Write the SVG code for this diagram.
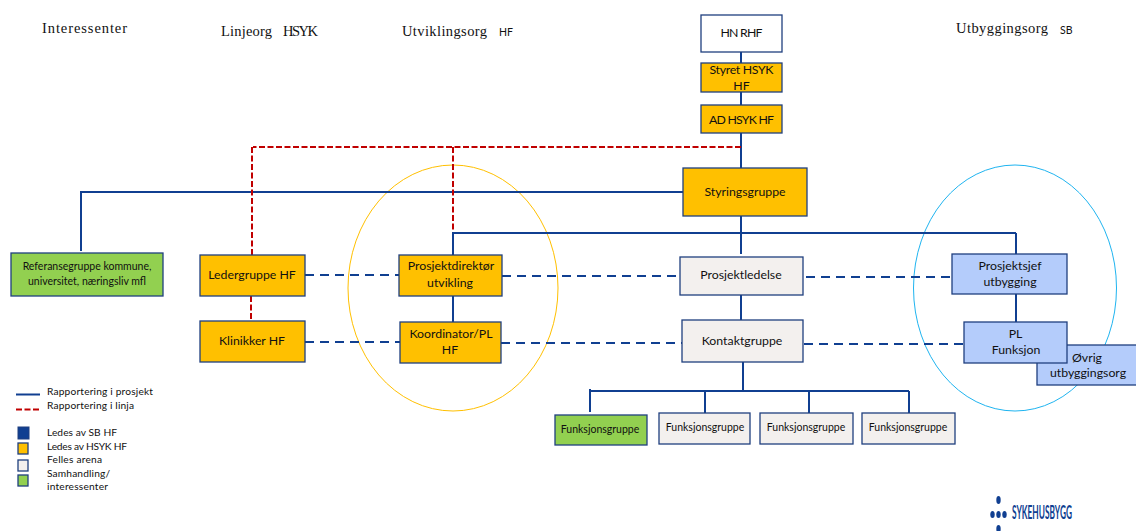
<svg xmlns="http://www.w3.org/2000/svg" width="1136" height="531" viewBox="0 0 1136 531">
<style>
text{font-family:Lato,"Open Sans",sans-serif;font-size:12.3px;fill:#111;text-anchor:middle}
.t{font-family:"Liberation Serif","DejaVu Serif",serif;font-size:14.5px;text-anchor:start}
.h{font-size:10.5px;text-anchor:start}
.s{font-size:10.5px}
.f{font-size:10.5px}
.l{font-size:10.2px;text-anchor:start}
.n{stroke:#1f3f7f;stroke-width:1.3}
.o{fill:#ffc000}.w{fill:#fff}.g{fill:#92d050}.e{fill:#f3f0ee}.b{fill:#b4ccfb}
.bl{fill:none;stroke:#103f91;stroke-width:2}
.da{fill:none;stroke:#103f91;stroke-width:2;stroke-dasharray:9 6}
.rd{fill:none;stroke:#c00000;stroke-width:2;stroke-dasharray:6 2.5}
</style>
<g id="titles">
<text class="t" x="42" y="33" textLength="85">Interessenter</text>
<text class="t" x="221" y="36" textLength="51">Linjeorg</text>
<text class="t" x="283" y="36" textLength="35">HSYK</text>
<text class="t" x="402" y="36" textLength="85">Utviklingsorg</text>
<text class="h" x="499" y="36">HF</text>
<text class="t" x="956" y="33" textLength="92">Utbyggingsorg</text>
<text class="h" x="1060" y="34">SB</text>
</g>
<ellipse id="ellipse-utvikling" cx="453" cy="288" rx="105" ry="123" fill="none" stroke="#ffc000" stroke-width="1"/>
<ellipse id="ellipse-utbygging" cx="1015" cy="288" rx="101.500" ry="123" fill="none" stroke="#1fb4f0" stroke-width="1"/>
<g id="connectors">
<path class="bl" d="M741 52V168M741 216V254M81 251V192H683M453 255V233M453 296V322M741 295V320M1016 233V254M1016 294V322M743 362V391M590 389V412M705 391V413M809 391V413M909 391V413M590 391H909M452 233H1016"/>
<path class="rd" d="M741 147H253M252 147V255M251 296V321M453 147V232"/>
<path class="da" d="M305 275H399M502 276H679M806 277H952M305 342H400M501 343H682M804 344H963"/>
</g>
<g id="hn-rhf"><rect class="n w" x="701" y="15" width="81" height="37"/><text x="741.500" y="37" textLength="42">HN RHF</text></g>
<g id="styret"><rect class="n o" x="701" y="63" width="81" height="29"/><text x="741.500" y="74" textLength="64">Styret HSYK</text><text x="741.500" y="90">HF</text></g>
<g id="ad"><rect class="n o" x="701" y="105" width="81" height="28"/><text x="741.500" y="124" textLength="65">AD HSYK HF</text></g>
<g id="styringsgruppe"><rect class="n o" x="683" y="168" width="124" height="48"/><text x="745" y="196">Styringsgruppe</text></g>
<g id="referansegruppe"><rect class="n g" x="11" y="253" width="152" height="43"/><text class="s" x="87" y="270">Referansegruppe kommune,</text><text class="s" x="87" y="285">universitet, næringsliv mfl</text></g>
<g id="ledergruppe"><rect class="n o" x="200" y="255" width="105" height="41"/><text x="252" y="279">Ledergruppe HF</text></g>
<g id="klinikker"><rect class="n o" x="200" y="321" width="105" height="41"/><text x="252" y="345">Klinikker HF</text></g>
<g id="prosjektdirektor"><rect class="n o" x="399" y="255" width="103" height="41"/><text x="451" y="270">Prosjektdirektør</text><text x="450" y="287">utvikling</text></g>
<g id="koordinator"><rect class="n o" x="400" y="322" width="101" height="41"/><text x="451" y="338">Koordinator/PL</text><text x="450" y="354">HF</text></g>
<g id="prosjektledelse"><rect class="n e" x="680" y="257" width="123" height="38"/><text x="741" y="279">Prosjektledelse</text></g>
<g id="kontaktgruppe"><rect class="n e" x="682" y="320" width="121" height="42"/><text x="742" y="345">Kontaktgruppe</text></g>
<g id="prosjektsjef"><rect class="n b" x="952" y="254" width="115" height="40"/><text x="1010" y="270">Prosjektsjef</text><text x="1010" y="286">utbygging</text></g>
<g id="ovrig"><rect class="n b" x="1037" y="345" width="100" height="40"/><text x="1087" y="362">Øvrig</text><text x="1088" y="377">utbyggingsorg</text></g>
<g id="pl"><rect class="n b" x="964" y="322" width="103" height="41"/><text x="1015.500" y="338">PL</text><text x="1016" y="354">Funksjon</text></g>
<g id="fg1"><rect class="n g" x="555" y="415" width="92" height="30"/><text class="f" x="600" y="433">Funksjonsgruppe</text></g>
<g id="fg2"><rect class="n e" x="659" y="413" width="91" height="31"/><text class="f" x="705" y="431">Funksjonsgruppe</text></g>
<g id="fg3"><rect class="n e" x="760" y="413" width="93" height="31"/><text class="f" x="806" y="431">Funksjonsgruppe</text></g>
<g id="fg4"><rect class="n e" x="862" y="413" width="93" height="31"/><text class="f" x="908" y="431">Funksjonsgruppe</text></g>
<g id="legend">
<path class="bl" d="M16 394.500H40"/>
<path d="M16 409.500H40" fill="none" stroke="#c00000" stroke-width="2" stroke-dasharray="6 2.500"/>
<text class="l" x="47" y="395" textLength="106">Rapportering i prosjekt</text>
<text class="l" x="47" y="409" textLength="87">Rapportering i linja</text>
<rect x="18" y="427" width="11" height="12" fill="#103f91" stroke="#1f3f7f"/>
<rect class="n o" x="18" y="443" width="10" height="11"/>
<rect class="n e" x="18" y="460" width="10" height="11"/>
<rect class="n g" x="18" y="475" width="10" height="11"/>
<text class="l" x="47" y="436" textLength="70">Ledes av SB HF</text>
<text class="l" x="47" y="450" textLength="80">Ledes av HSYK HF</text>
<text class="l" x="47" y="463" textLength="55">Felles arena</text>
<text class="l" x="47" y="477" textLength="63">Samhandling/</text>
<text class="l" x="47" y="490" textLength="61">interessenter</text>
</g>
<g id="logo" fill="#103f91">
<ellipse cx="998.500" cy="500" rx="2.200" ry="4"/>
<ellipse cx="998.500" cy="529" rx="2.200" ry="4"/>
<ellipse cx="992.500" cy="514.500" rx="2.200" ry="3.500"/>
<ellipse cx="998.500" cy="514.500" rx="2.200" ry="3.500"/>
<ellipse cx="1004.500" cy="514.500" rx="2.200" ry="3.500"/>
<text x="1012" y="519" textLength="60" lengthAdjust="spacingAndGlyphs" style="font-size:18px;font-weight:700;fill:#103f91;text-anchor:start">SYKEHUSBYGG</text>
</g>
</svg>
